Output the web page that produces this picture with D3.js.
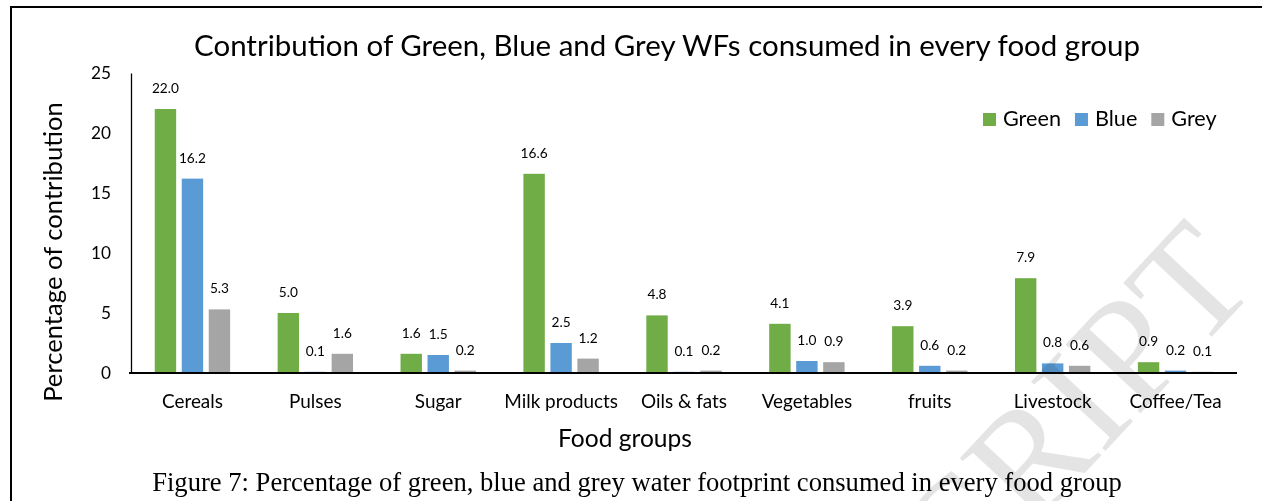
<!DOCTYPE html>
<html><head><meta charset="utf-8">
<script src="https://cdn.jsdelivr.net/npm/d3@7"></script>
<style>body{margin:0;background:#fff;} svg{display:block;}</style>
</head><body>
<svg id="chart" width="1262" height="501"></svg>
<script>
// ---- data ----
const categories = ["Cereals","Pulses","Sugar","Milk products","Oils & fats","Vegetables","fruits","Livestock","Coffee/Tea"];
const seriesNames = ["Green","Blue","Grey"];
const greenValues = [22.0,5.0,1.6,16.6,4.8,4.1,3.9,7.9,0.9];
const blueValues  = [16.2,0.1,1.5,2.5,0.1,1.0,0.6,0.8,0.2];
const greyValues  = [5.3,1.6,0.2,1.2,0.2,0.9,0.2,0.6,0.1];
const yTicks = [0,5,10,15,20,25];
const titleText = "Contribution of Green, Blue and Grey WFs consumed in every food group";
const yTitle = "Percentage of contribution";
const xTitle = "Food groups";
const captionText = "Figure 7: Percentage of green, blue and grey water footprint consumed in every food group";
const watermarkText = "ACCEPTED MANUSCRIPT";

const seriesValues = [greenValues, blueValues, greyValues];
const colors = ["#70AD47","#5B9BD5","#A5A5A5"];
const SANS = "Lato, 'Open Sans', sans-serif";
const SERIF = "'Liberation Serif', 'Times New Roman', serif";

const svg = d3.select("#chart");

// fit helper: scale font-size so that text width equals target
function fitSize(family, sample, startSize, target){
  const t = svg.append("text").attr("font-family", family).attr("font-size", startSize).text(sample);
  const w = t.node().getComputedTextLength();
  t.remove();
  return startSize * target / w;
}

// frame
svg.append("rect").attr("x",11).attr("y",7).attr("width",1400).attr("height",700)
  .attr("fill","none").attr("stroke","#000").attr("stroke-width",2);

// scales
const x0 = d3.scaleBand().domain(categories).range([131,1237]).padding(0);
const x1 = d3.scaleBand().domain(seriesNames).range([0, x0.bandwidth()]).paddingInner(0.207).paddingOuter(0.88);
const y = d3.scaleLinear().domain([0,25]).range([373,73]);

// title
const titleSize = fitSize(SANS, titleText, 30, 946);
svg.append("text").attr("x",667).attr("y",56).attr("text-anchor","middle")
  .attr("font-family",SANS).attr("font-size",titleSize).attr("fill","#000").text(titleText);

// y axis
const tickSize = fitSize(SANS, "25", 18, 20);
const yAxis = svg.append("g").attr("transform","translate(131,0)")
  .call(d3.axisLeft(y).tickValues(yTicks).tickSize(0).tickSizeOuter(0).tickPadding(20).tickFormat(d3.format("d")));
yAxis.select(".domain").attr("stroke","#000").attr("stroke-width",1.3);
yAxis.selectAll("text").attr("font-family",SANS).attr("font-size",tickSize).attr("fill","#000").attr("dy","0.32em");

// bars
const groups = svg.append("g").selectAll("g").data(categories).join("g")
  .attr("transform", d => `translate(${x0(d)},0)`);
groups.selectAll("rect").data((c,i) => seriesNames.map((s,k) => ({s, k, v: seriesValues[k][i]})))
  .join("rect")
  .attr("x", d => x1(d.s)).attr("width", x1.bandwidth())
  .attr("y", d => y(d.v)).attr("height", d => y(0) - y(d.v))
  .attr("fill", d => colors[d.k]);

// value labels
const valSize = fitSize(SANS, "22.0", 14, 27);
groups.selectAll("text").data((c,i) => seriesNames.map((s,k) => ({s, k, v: seriesValues[k][i]})))
  .join("text")
  .attr("x", d => x1(d.s) + x1.bandwidth()/2)
  .attr("y", d => y(d.v) - 16)
  .attr("text-anchor","middle").attr("font-family",SANS).attr("font-size",valSize).attr("fill","#000")
  .text(d => d3.format(".1f")(d.v));

// x axis
const catSize = fitSize(SANS, "Cereals", 19, 61);
const xAxis = svg.append("g").attr("transform","translate(0,373)")
  .call(d3.axisBottom(x0).tickSize(0).tickSizeOuter(0));
xAxis.select(".domain").attr("stroke","#000").attr("stroke-width",2).attr("d","M129,0H1237");
xAxis.selectAll("text").attr("font-family",SANS).attr("font-size",catSize).attr("fill","#000")
  .attr("y",35).attr("dy",0);

// axis titles
const yTitleSize = fitSize(SANS, yTitle, 26, 300);
svg.append("text").attr("transform","translate(62,252) rotate(-90)").attr("text-anchor","middle")
  .attr("font-family",SANS).attr("font-size",yTitleSize).attr("fill","#000").text(yTitle);
const xTitleSize = fitSize(SANS, xTitle, 26, 134);
svg.append("text").attr("x",625).attr("y",447).attr("text-anchor","middle")
  .attr("font-family",SANS).attr("font-size",xTitleSize).attr("fill","#000").text(xTitle);

// legend
const legSize = fitSize(SANS, "Green", 22, 58);
let lx = 983;
const legend = svg.append("g");
seriesNames.forEach((s,k) => {
  legend.append("rect").attr("x",lx).attr("y",113).attr("width",13).attr("height",13).attr("fill",colors[k]);
  const t = legend.append("text").attr("x",lx+20).attr("y",126)
    .attr("font-family",SANS).attr("font-size",legSize).attr("fill","#000").text(s);
  lx = lx + 20 + t.node().getComputedTextLength() + 14;
});

// caption
const capSize = fitSize(SERIF, captionText, 24, 970);
svg.append("text").attr("x",637).attr("y",491).attr("text-anchor","middle")
  .attr("font-family",SERIF).attr("font-size",capSize).attr("fill","#000").text(captionText);

// watermark (runs off the page edge, as in the reference)
svg.append("text").attr("transform","translate(1260,285) rotate(-47)").attr("text-anchor","end")
  .attr("font-family",SERIF).attr("font-size",155).attr("fill","#e4e4e4")
  .style("mix-blend-mode","multiply").text(watermarkText);
</script>
</body></html>
